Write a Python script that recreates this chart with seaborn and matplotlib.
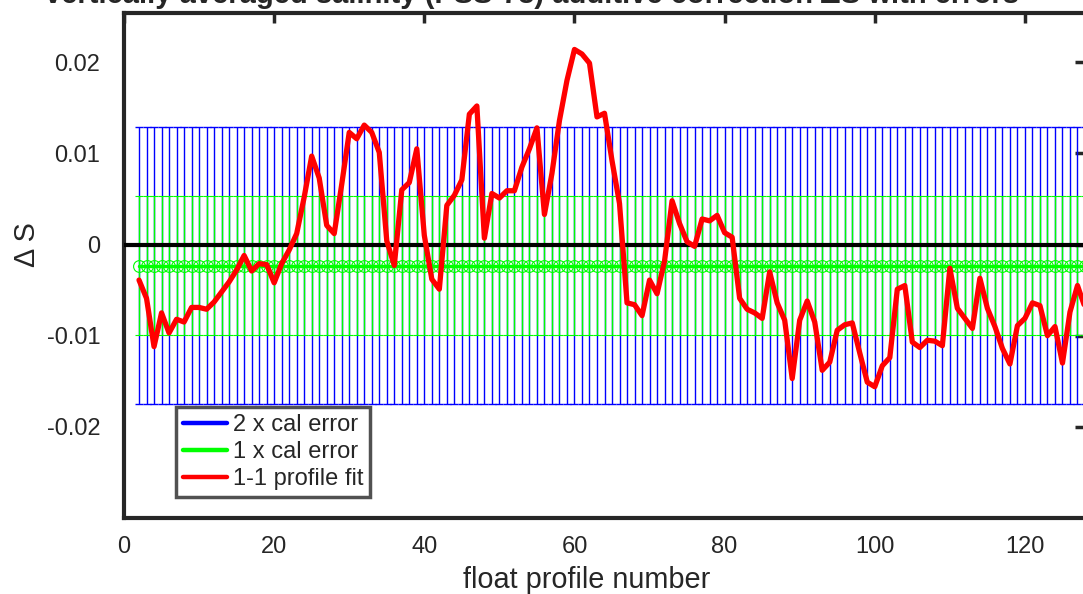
import numpy as np
import pandas as pd
import matplotlib
matplotlib.use("Agg")
import matplotlib.pyplot as plt
from matplotlib.lines import Line2D
import seaborn as sns

# Float profile numbers and the 1-1 profile fit of the salinity offset
profile = np.arange(2, 129)
delta_s = [
    -0.0039, -0.0059, -0.0112, -0.0075, -0.0097, -0.0082, -0.0085, -0.0069, -0.0069, -0.0071,
    -0.0063, -0.0052, -0.0041, -0.0028, -0.0012, -0.0029, -0.0021, -0.0022, -0.0042, -0.0021,
    -0.0006, 0.0012, 0.0052, 0.0097, 0.0073, 0.0021, 0.0012, 0.0066, 0.0123, 0.0116,
    0.0131, 0.0123, 0.0101, 0.0004, -0.0023, 0.0060, 0.0068, 0.0105, 0.0010, -0.0038,
    -0.0049, 0.0043, 0.0054, 0.0071, 0.0143, 0.0152, 0.0007, 0.0056, 0.0051, 0.0059,
    0.0059, 0.0085, 0.0105, 0.0128, 0.0033, 0.0078, 0.0136, 0.0180, 0.0214, 0.0209,
    0.0199, 0.0140, 0.0144, 0.0092, 0.0045, -0.0064, -0.0066, -0.0078, -0.0039, -0.0054,
    -0.0018, 0.0048, 0.0023, 0.0003, -0.0002, 0.0028, 0.0026, 0.0032, 0.0013, 0.0008,
    -0.0059, -0.0071, -0.0075, -0.0081, -0.0030, -0.0064, -0.0083, -0.0147, -0.0083, -0.0062,
    -0.0085, -0.0138, -0.0129, -0.0094, -0.0088, -0.0086, -0.0119, -0.0151, -0.0156, -0.0133,
    -0.0124, -0.0049, -0.0045, -0.0107, -0.0113, -0.0105, -0.0106, -0.0111, -0.0026, -0.0070,
    -0.0081, -0.0092, -0.0037, -0.0070, -0.0090, -0.0114, -0.0131, -0.0089, -0.0081, -0.0064,
    -0.0067, -0.0100, -0.0090, -0.0130, -0.0074, -0.0045, -0.0069,
]

# Calibration offset and its error for each profile
cal_offset = -0.0023
cal_error = 0.0076

xticks = [0, 20, 40, 60, 80, 100, 120]
yticks = [-0.02, -0.01, 0, 0.01, 0.02]
ytick_labels = ["-0.02", "-0.01", "0", "0.01", "0.02"]
legend_labels = ["2 x cal error", "1 x cal error", "1-1 profile fit"]
title_text = "vertically averaged salinity (PSS-78) additive correction \u0394S with errors"

df = pd.DataFrame({"profile": profile, "delta_s": delta_s})

sns.set_style("white")
plt.rcParams["font.family"] = ["Liberation Sans", "DejaVu Sans"]

W, H = 1083, 594
fig = plt.figure(figsize=(W / 100, H / 100), dpi=100)
ax = fig.add_axes([124 / W, 76 / H, 961 / W, 505 / H])

axis_col = "#262626"
blue, green, red = (0, 0, 1), (0, 1, 0), (1, 0, 0)
offsets = np.full(len(profile), cal_offset)

# 2 x calibration error bars
ax.errorbar(profile, offsets, yerr=2 * cal_error, fmt="none", ecolor=blue,
            elinewidth=1.0, capsize=3.2, capthick=1.0, zorder=2)
# 1 x calibration error bars with centre markers
ax.errorbar(profile, offsets, yerr=cal_error, fmt="-o", color=green,
            ecolor=green, elinewidth=1.0, capsize=3.2, capthick=1.0,
            lw=2.5, markersize=8.5, markerfacecolor="none", markeredgewidth=0.8, zorder=3)

ax.axhline(0, color="black", lw=3, zorder=4)

sns.lineplot(data=df, x="profile", y="delta_s", color=red, linewidth=3.8, ax=ax, zorder=5)

ax.set_xlim(0, 128)
ax.set_ylim(-0.03, 0.0254)
ax.set_xticks(xticks)
ax.set_xticklabels([str(v) for v in xticks])
ax.set_yticks(yticks)
ax.set_yticklabels(ytick_labels)
ax.tick_params(direction="in", length=7, width=2.5, color=axis_col, labelsize=17,
               top=True, right=True, labelcolor=axis_col)
ax.tick_params(axis="y", pad=17)
ax.tick_params(axis="x", pad=13)
for sp in ax.spines.values():
    sp.set_linewidth(3)
    sp.set_color(axis_col)

ax.set_xlabel("float profile number", fontsize=20.8, color=axis_col, labelpad=4)
ax.xaxis.set_label_coords((587 - 124) / 961, -0.095)
ax.set_ylabel("\u0394 S", fontsize=20.8, color=axis_col)
ax.yaxis.set_label_coords((41 - 124) / 961, (594 - 245 - 76) / 505)

handles = [Line2D([], [], color=c, lw=3.2) for c in [blue, green, red]]
leg = ax.legend(handles, legend_labels, loc="lower left", bbox_to_anchor=(0.054, 0.0416),
                fontsize=17, frameon=True, fancybox=False, handlelength=1.85,
                borderpad=0.3, labelspacing=0.2, handletextpad=0.25, borderaxespad=0)
leg.get_frame().set_edgecolor(axis_col)
leg.get_frame().set_linewidth(2.5)
for t in leg.get_texts():
    t.set_color(axis_col)

# Title sits above the frame; only its lower edge stays inside the figure
title_props = dict(fontsize=21, fontweight="bold", color=axis_col, va="baseline", ha="left")
renderer = fig.canvas.get_renderer()
lead = fig.text(0, 0, "vertically averaged salinity (", **title_props)
paren = fig.text(0, 0, "(", **title_props)
lead_w = lead.get_window_extent(renderer).width - paren.get_window_extent(renderer).width
lead.remove()
paren.remove()
fig.text((425 - lead_w) / W, 1 - 3 / H, title_text, **title_props)

fig.savefig("out.png", dpi=100)
